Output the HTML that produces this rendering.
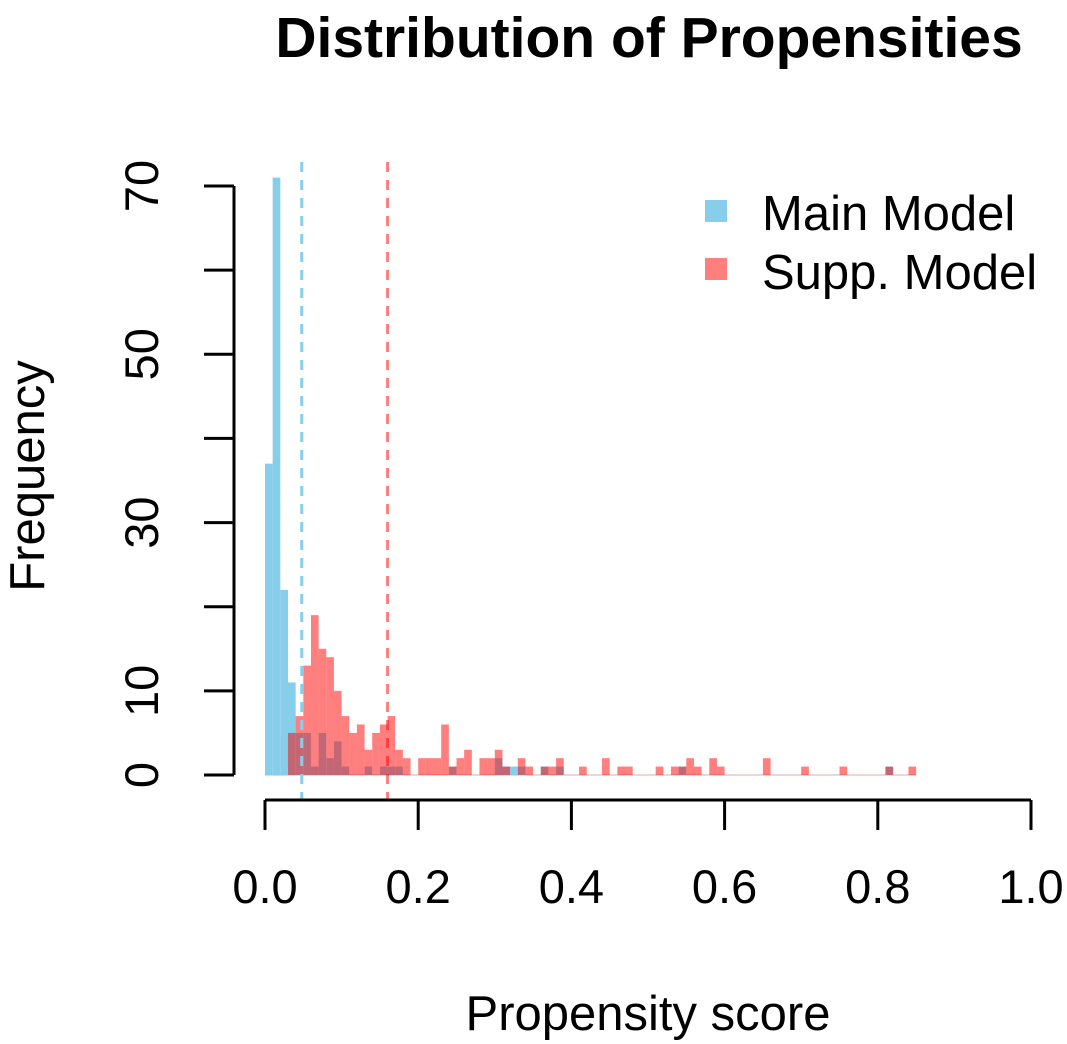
<!DOCTYPE html>
<html><head><meta charset="utf-8"><style>
html,body{margin:0;padding:0;background:#fff}
svg{display:block;font-family:"Liberation Sans",Arial,sans-serif}
</style></head><body>
<svg id="chart" width="1067" height="1044" viewBox="0 0 1067 1044">
<text x="649" y="57" font-size="57" font-weight="bold" text-anchor="middle">Distribution of Propensities</text>
<text x="648" y="1030" font-size="49" text-anchor="middle">Propensity score</text>
<text transform="translate(44,476) rotate(-90)" font-size="49" text-anchor="middle">Frequency</text>
<g id="bars"></g>
<g id="axes"></g>
<g>
<rect x="705" y="200" width="22" height="22" fill="#87CEEB"/>
<text x="762" y="230" font-size="49">Main Model</text>
<rect x="705" y="258" width="22" height="22" fill="rgba(255,0,0,0.5)"/>
<text x="762" y="289" font-size="49">Supp. Model</text>
</g>
</svg>
<script>
const binStarts = [0,0.01,0.02,0.03,0.04,0.05,0.06,0.07,0.08,0.09,0.10,0.11,0.12,0.13,0.14,0.15,0.16,0.17,0.18,0.19,0.20,0.21,0.22,0.23,0.24,0.25,0.26,0.27,0.28,0.29,0.30,0.31,0.32,0.33,0.34,0.35,0.36,0.37,0.38,0.39,0.40,0.41,0.42,0.43,0.44,0.45,0.46,0.47,0.48,0.49,0.50,0.51,0.52,0.53,0.54,0.55,0.56,0.57,0.58,0.59,0.60,0.61,0.62,0.63,0.64,0.65,0.66,0.67,0.68,0.69,0.70,0.71,0.72,0.73,0.74,0.75,0.76,0.77,0.78,0.79,0.80,0.81,0.82,0.83,0.84];
const mainCounts = [37,71,22,11,5,5,1,5,2,4,1,0,0,1,0,1,1,1,0,0,0,0,0,0,1,0,0,0,0,0,2,1,1,1,0,0,1,0,1,0,0,0,0,0,0,0,0,0,0,0,0,0,0,0,1,0,0,0,0,0,0,0,0,0,0,0,0,0,0,0,0,0,0,0,0,0,0,0,0,0,0,1,0,0,0];
const suppCounts = [0,0,0,5,7,13,19,15,14,10,7,5,6,3,5,6,7,3,2,0,2,2,2,6,1,2,3,0,2,2,3,1,0,2,1,0,1,1,2,0,0,1,0,0,2,0,1,1,0,0,0,1,0,1,1,2,1,0,2,1,0,0,0,0,0,2,0,0,0,0,1,0,0,0,0,1,0,0,0,0,0,1,0,0,1];
const mainMean = 0.048, suppMean = 0.16;
const xTicks = [0,0.2,0.4,0.6,0.8,1.0];
const xTickLabels = ["0.0","0.2","0.4","0.6","0.8","1.0"];
const yTicks = [0,10,20,30,40,50,60,70];
const yTickLabels = ["0","10","","30","","50","","70"];
const binWidth = 0.01;

const NS="http://www.w3.org/2000/svg";
const X=v=>265+v*766, Y=v=>775-v*(589/70);
function mk(t,a,p){const e=document.createElementNS(NS,t);for(const k in a)e.setAttribute(k,a[k]);p.appendChild(e);return e;}
const bars=document.getElementById('bars'), axes=document.getElementById('axes');
const base=mk('line',{x1:X(0),x2:X(0.85),y1:775,y2:775,stroke:'#e6c8cc','stroke-width':1.5},bars);


binStarts.forEach((b,i)=>{const c=mainCounts[i];if(!c)return;
 const r=mk('rect',{x:X(b),y:Y(c),width:X(b+binWidth)-X(b),height:Y(0)-Y(c),fill:'#87CEEB'},bars);
 
 });
binStarts.forEach((b,i)=>{const c=suppCounts[i];if(!c)return;
 const r=mk('rect',{x:X(b),y:Y(c),width:X(b+binWidth)-X(b),height:Y(0)-Y(c),fill:'rgba(255,0,0,0.5)'},bars);
 
 });
const l1=mk('line',{x1:X(mainMean),x2:X(mainMean),y1:162,y2:800,stroke:'#87CEEB','stroke-width':3,'stroke-dasharray':'10 8'},bars);


const l2=mk('line',{x1:X(suppMean),x2:X(suppMean),y1:162,y2:800,stroke:'rgba(255,0,0,0.5)','stroke-width':3,'stroke-dasharray':'10 8'},bars);


const xa=mk('line',{x1:X(0),x2:X(1),y1:800,y2:800,stroke:'#000','stroke-width':3},axes);


xTicks.forEach((v,i)=>{mk('line',{x1:X(v),x2:X(v),y1:800,y2:830,stroke:'#000','stroke-width':3},axes);
 const t=mk('text',{x:X(v),y:903,'font-size':47,'text-anchor':'middle'},axes);t.textContent=xTickLabels[i];
 
 });
const ya=mk('line',{x1:234,x2:234,y1:Y(0),y2:Y(70),stroke:'#000','stroke-width':3},axes);


yTicks.forEach((v,i)=>{mk('line',{x1:204,x2:234,y1:Y(v),y2:Y(v),stroke:'#000','stroke-width':3},axes);
 if(!yTickLabels[i])return;
 const t=mk('text',{transform:`translate(158,${Y(v)}) rotate(-90)`,'font-size':47,'text-anchor':'middle'},axes);t.textContent=yTickLabels[i];
 
 });
</script>
</body></html>
